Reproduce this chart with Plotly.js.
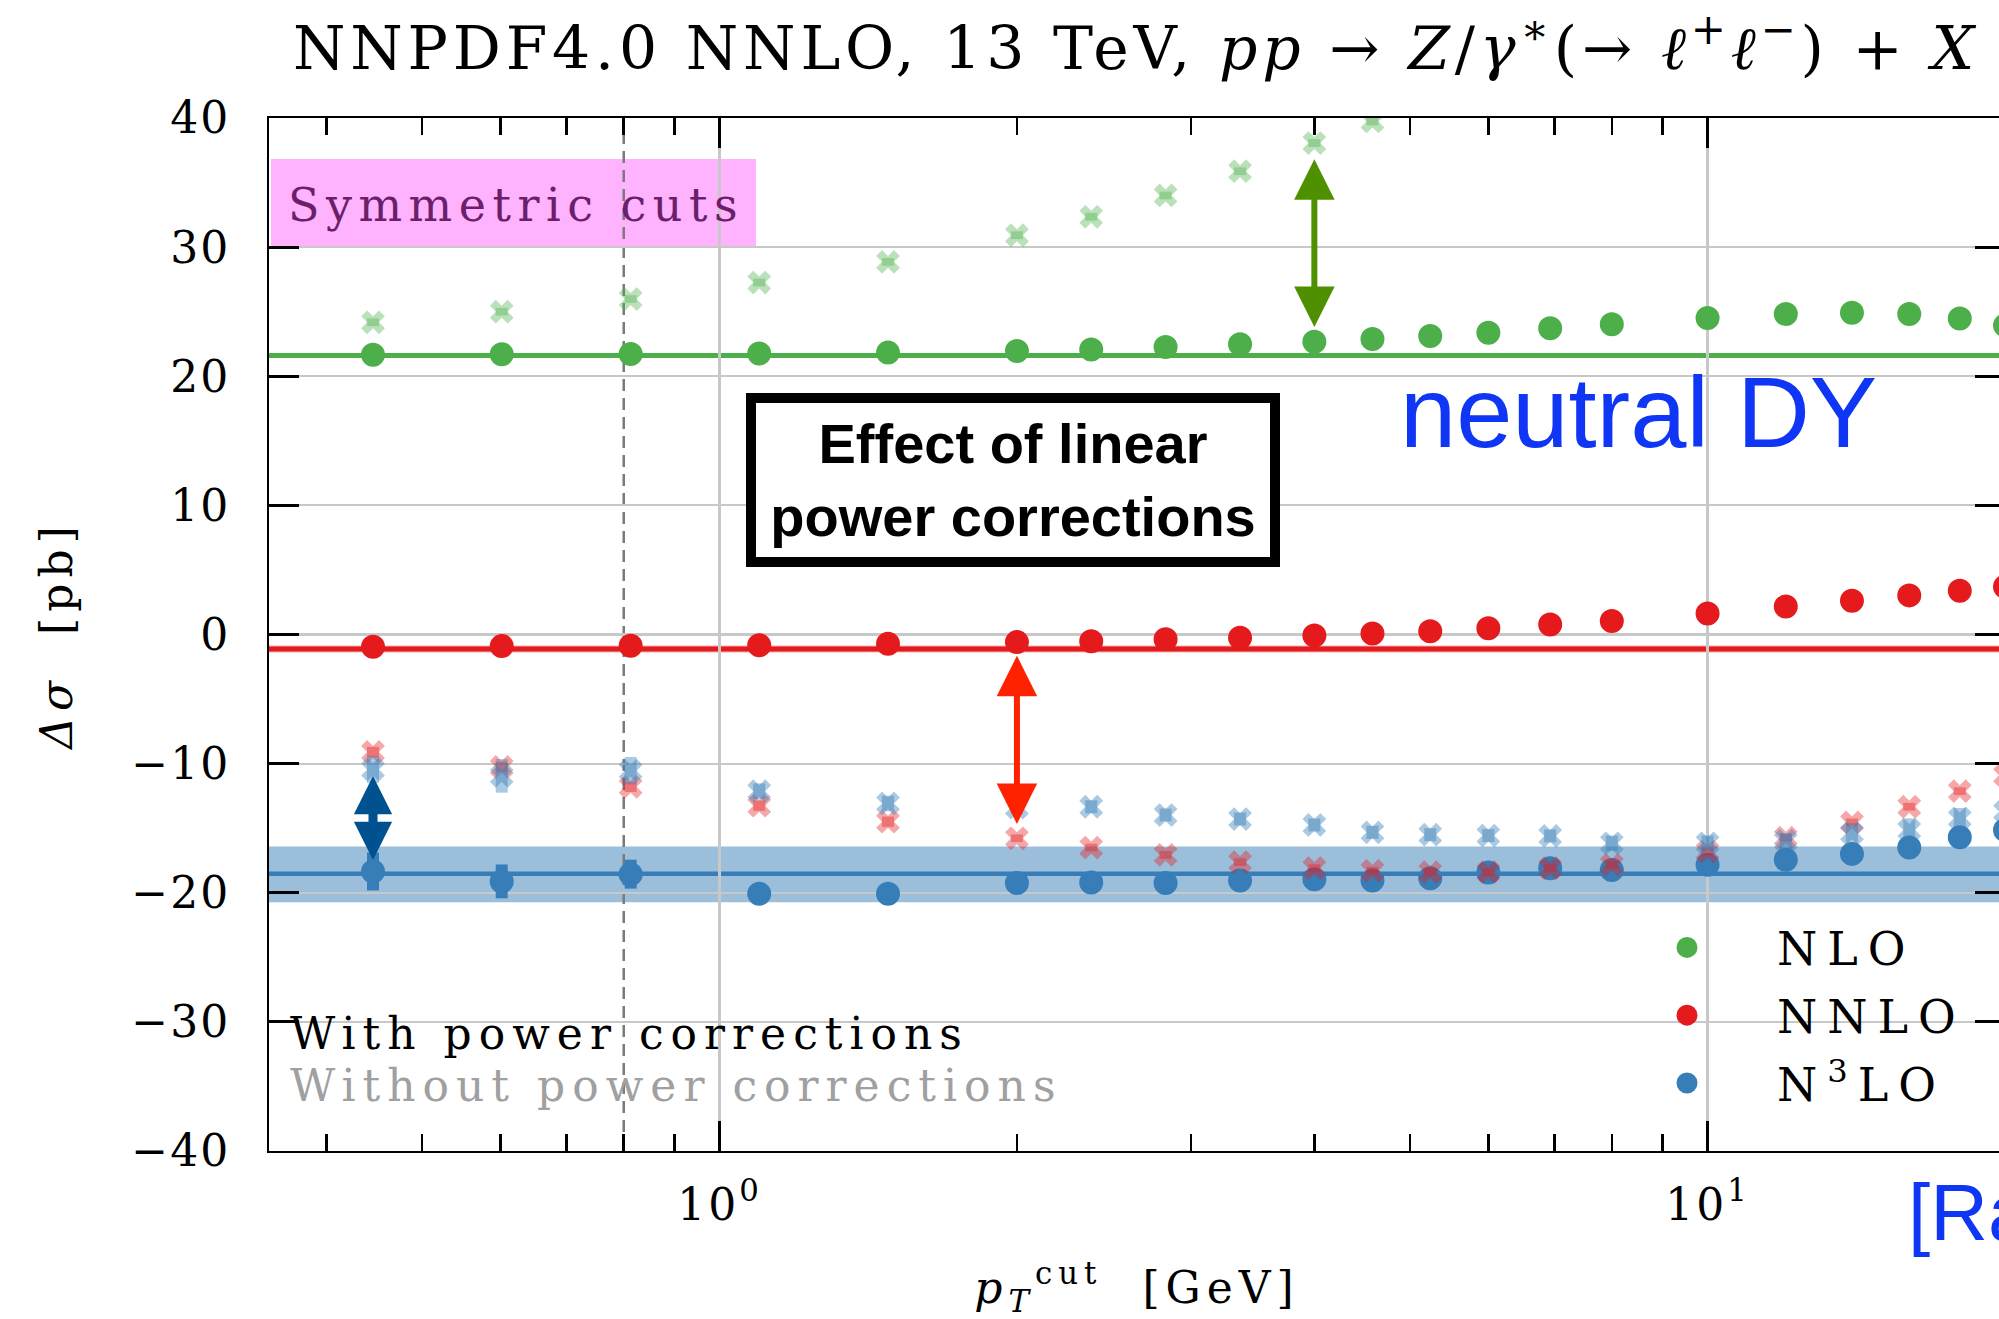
<!DOCTYPE html>
<html><head><meta charset="utf-8">
<script src="https://cdn.plot.ly/plotly-3.0.1.min.js"></script>
<style>
html,body{margin:0;padding:0;overflow:hidden;background:#fff;}
#chart{width:2006px;height:1319px;}
.gtitle{letter-spacing:4.8px;}
.ytick text{letter-spacing:2px;}
.xtick text{letter-spacing:3px;}
.ytitle,.xtitle{letter-spacing:6px;}
</style></head><body><div id="chart"></div>
<script>
// ---------------- data ----------------
const ptCut = [0.446, 0.602, 0.813, 1.097, 1.481, 2.0, 2.378, 2.828, 3.364, 4.0, 4.58, 5.24, 6.0, 6.93, 8.0, 10.0, 12.0, 14.0, 16.0, 18.0, 20.0];

const nloWithPC    = [21.67, 21.70, 21.73, 21.76, 21.83, 21.95, 22.08, 22.26, 22.47, 22.68, 22.88, 23.11, 23.37, 23.71, 24.02, 24.51, 24.82, 24.92, 24.82, 24.48, 23.94];
const nloWithPCErr = [0.25, 0.25, 0.25, 0.25, 0.25, 0.25, 0.25, 0.25, 0.25, 0.25, 0.25, 0.25, 0.25, 0.25, 0.25, 0.25, 0.25, 0.25, 0.25, 0.25, 0.25];
const nloNoPC      = [24.18, 25.00, 25.98, 27.26, 28.86, 30.92, 32.35, 34.00, 35.88, 38.06, 39.73];
const nloNoPCErr   = [0.3, 0.3, 0.3, 0.3, 0.3, 0.3, 0.3, 0.3, 0.3, 0.3, 0.3];

const nnloWithPC    = [-0.95, -0.90, -0.88, -0.83, -0.72, -0.59, -0.52, -0.36, -0.26, -0.08, 0.07, 0.25, 0.49, 0.77, 1.05, 1.62, 2.16, 2.62, 3.03, 3.39, 3.70];
const nnloWithPCErr = [0.25, 0.25, 0.25, 0.25, 0.25, 0.25, 0.25, 0.25, 0.25, 0.25, 0.25, 0.25, 0.25, 0.25, 0.25, 0.25, 0.25, 0.25, 0.25, 0.25, 0.25];
const nnloNoPC      = [-9.10, -10.26, -11.80, -13.26, -14.50, -15.78, -16.50, -17.07, -17.63, -18.10, -18.30, -18.40, -18.40, -18.10, -17.84, -16.81, -15.73, -14.55, -13.34, -12.13, -10.90];
const nnloNoPCErr   = [0.4, 0.4, 0.4, 0.4, 0.4, 0.3, 0.3, 0.3, 0.3, 0.3, 0.3, 0.3, 0.3, 0.3, 0.3, 0.3, 0.3, 0.3, 0.3, 0.3, 0.3];

const n3loWithPC    = [-18.35, -19.12, -18.56, -20.08, -20.08, -19.25, -19.20, -19.25, -19.05, -18.95, -19.05, -18.87, -18.43, -18.10, -18.23, -17.84, -17.45, -16.99, -16.50, -15.70, -15.14];
const n3loWithPCErr = [1.47, 1.31, 1.12, 0.6, 0.6, 0.5, 0.5, 0.5, 0.5, 0.5, 0.5, 0.5, 0.5, 0.5, 0.5, 0.5, 0.5, 0.5, 0.5, 0.5, 0.5];
const n3loNoPC      = [-10.45, -10.95, -10.55, -12.13, -13.08, -13.40, -13.34, -13.98, -14.29, -14.75, -15.32, -15.50, -15.57, -15.60, -16.17, -16.17, -15.99, -15.40, -15.14, -14.24, -13.72];
const n3loNoPCErr   = [1.05, 1.3, 1.06, 0.6, 0.6, 0.5, 0.5, 0.5, 0.5, 0.5, 0.5, 0.5, 0.5, 0.5, 0.6, 0.6, 0.6, 0.8, 0.9, 0.8, 0.8];

// reference (q_T-integrated) values
const nloRef = 21.61;
const nnloRef = -1.13;
const nnloRefBand = [-1.40, -0.86];
const n3loRef = -18.53;
const n3loRefBand = [-20.74, -16.42];

// symmetric cut marker and "effect" arrows (index into ptCut, y tips)
const cutLine = 0.8;
const arrowNLO  = {i: 9, from: 23.7,   to: 36.8};
const arrowNNLO = {i: 5, from: -14.8,  to: -1.65};
const arrowN3LO = {i: 0, from: -17.58, to: -10.95};

const seriesNames = ['NLO', 'NNLO', 'N<sup>3</sup>LO'];
const yTicks = [-40, -30, -20, -10, 0, 10, 20, 30, 40];
const xTicks = [1, 10];
const xTickText = ['10<sup>0</sup>', '10<sup>1</sup>'];
const xMinor = [0.4, 0.5, 0.6, 0.7, 0.8, 0.9, 2, 3, 4, 5, 6, 7, 8, 9, 20];

// ---------------- layout helpers ----------------
const W = 2006, H = 1319;
const PL = 269, PR = 2005, PT = 118, PB = 1151;
const xr = [Math.log10(0.35), Math.log10(20)];
const px = p => (p - PL) / (PR - PL);
const py = p => (PB - p) / (PB - PT);
const xPaper = v => (Math.log10(v) - xr[0]) / (xr[1] - xr[0]);

const cGreen = '#4daf4a', cRed = '#e41a1c', cBlue = '#377eb8';
const serif = 'DejaVu Serif, Liberation Serif, serif';
const sans = 'Liberation Sans, Arial, sans-serif';
const spaced = (t, s) => '<span style="letter-spacing:' + s + 'px">' + t + '</span>';

function dots(y, err, color, name, grp) {
  return {x: ptCut, y: y, type: 'scatter', mode: 'markers', name: spaced(name, 10), legendgroup: grp,
    marker: {color: color, size: 19, line: {width: 5, color: color}},
    error_y: {type: 'data', array: err, visible: true, color: color, thickness: 12, width: 0},
    hoverinfo: 'x+y'};
}
function crosses(y, err, color) {
  return {x: ptCut.slice(0, y.length), y: y, type: 'scatter', mode: 'markers', showlegend: false,
    marker: {symbol: 'x', color: color, size: 21, line: {width: 0}},
    error_y: {type: 'data', array: err, visible: true, color: color, thickness: 12, width: 0},
    hoverinfo: 'x+y'};
}

const traces = [
  dots(nloWithPC, nloWithPCErr, cGreen, seriesNames[0], 'g1'),
  dots(nnloWithPC, nnloWithPCErr, cRed, seriesNames[1], 'g2'),
  dots(n3loWithPC, n3loWithPCErr, cBlue, seriesNames[2], 'g3'),
  crosses(nloNoPC, nloNoPCErr, 'rgba(77,175,74,0.38)'),
  crosses(nnloNoPC, nnloNoPCErr, 'rgba(228,26,28,0.38)'),
  crosses(n3loNoPC, n3loNoPCErr, 'rgba(55,126,184,0.42)')
];

function hline(y, color, w) {
  return {type: 'line', xref: 'paper', x0: 0, x1: 1, yref: 'y', y0: y, y1: y, line: {color: color, width: w}, layer: 'between'};
}
const shapes = [
  {type: 'rect', xref: 'paper', yref: 'paper', x0: px(271), x1: px(756), y0: py(246.7), y1: py(159),
   fillcolor: '#ffb2fe', line: {width: 0}, layer: 'below'},
  {type: 'rect', xref: 'paper', x0: 0, x1: 1, yref: 'y', y0: n3loRefBand[0], y1: n3loRefBand[1],
   fillcolor: 'rgba(55,126,184,0.5)', line: {width: 0}, layer: 'between'},
  {type: 'rect', xref: 'paper', x0: 0, x1: 1, yref: 'y', y0: nnloRefBand[0], y1: nnloRefBand[1],
   fillcolor: 'rgba(228,26,28,0.35)', line: {width: 0}, layer: 'between'},
  hline(nloRef, cGreen, 5),
  hline(nnloRef, cRed, 5),
  hline(n3loRef, cBlue, 4.5),
  {type: 'line', xref: 'paper', x0: xPaper(cutLine), x1: xPaper(cutLine), yref: 'paper', y0: 0, y1: 1,
   line: {color: '#7a7a7a', width: 2.5, dash: '12px,7px'}, layer: 'between'}
];

function arrow(a, color, w, s) {
  const lx = Math.log10(ptCut[a.i]);
  return {xref: 'x', yref: 'y', axref: 'x', ayref: 'y', x: lx, y: a.to, ax: lx, ay: a.from,
    text: '', showarrow: true, arrowside: 'end+start', arrowhead: 2, startarrowhead: 2,
    arrowsize: s, startarrowsize: s, arrowwidth: w, arrowcolor: color, standoff: 0, startstandoff: 0};
}

const annotations = [
  {xref: 'paper', yref: 'paper', x: px(286), y: py(205), xanchor: 'left', yanchor: 'middle', showarrow: false,
   text: spaced('Symmetric cuts', 6.5),
   font: {family: serif, size: 46, color: '#6b1f6b'}},
  {xref: 'paper', yref: 'paper', x: px(1013), y: py(480), xanchor: 'center', yanchor: 'middle', showarrow: false,
   text: '<b>Effect of linear<br>power corrections</b>', width: 514, height: 154, align: 'center', valign: 'middle',
   bordercolor: '#000', borderwidth: 10, borderpad: 0, bgcolor: '#fff',
   font: {family: sans, size: 56, color: '#000'}},
  {xref: 'paper', yref: 'paper', x: px(1398), y: py(412), xanchor: 'left', yanchor: 'middle', showarrow: false,
   text: 'neutral DY', font: {family: sans, size: 101, color: '#0f35f5'}},
  {xref: 'paper', yref: 'paper', x: px(1906), y: py(1212), xanchor: 'left', yanchor: 'middle', showarrow: false,
   text: '[Ra', font: {family: sans, size: 80, color: '#0f35f5'}},
  {xref: 'paper', yref: 'paper', x: px(288), y: py(1033), xanchor: 'left', yanchor: 'middle', showarrow: false,
   text: spaced('With power corrections', 7),
   font: {family: serif, size: 44, color: '#000'}},
  {xref: 'paper', yref: 'paper', x: px(288), y: py(1085), xanchor: 'left', yanchor: 'middle', showarrow: false,
   text: spaced('Without power corrections', 7),
   font: {family: serif, size: 44, color: '#a0a0a0'}},
  arrow(arrowNLO, '#4e9000', 6, 1.35),
  arrow(arrowNNLO, '#ff2200', 6, 1.35),
  arrow(arrowN3LO, '#00518f', 9, 0.85)
];

const axisCommon = {
  showline: true, linecolor: '#000', linewidth: 2, mirror: 'ticks',
  ticks: 'inside', tickcolor: '#000', ticklen: 30, tickwidth: 3,
  showgrid: true, gridcolor: '#c8c8c8', gridwidth: 2.2, zeroline: false, automargin: false,
  tickfont: {family: serif, size: 44, color: '#000'}
};

const layout = {
  width: W, height: H,
  margin: {l: PL, r: W - PR, t: PT, b: H - PB, pad: 0},
  paper_bgcolor: '#fff', plot_bgcolor: '#fff',
  title: {text: 'NNPDF4.0 NNLO, 13 TeV, <i>pp</i> → <i>Z</i>/<i>γ</i><sup>∗</sup>(→ <i>ℓ</i><sup>+</sup><i>ℓ</i><sup>−</sup>) + <i>X</i>',
    font: {family: serif, size: 60, color: '#000'}, xref: 'container', x: 293 / W, xanchor: 'left',
    yref: 'container', y: 1 - 48 / H, yanchor: 'middle'},
  xaxis: Object.assign({}, axisCommon, {
    type: 'log', range: xr, tickmode: 'array', tickvals: xTicks, ticktext: xTickText, ticklabelstandoff: 14,
    minor: {tickmode: 'array', tickvals: xMinor, ticks: 'inside', ticklen: 17, tickwidth: 2.5, tickcolor: '#000', showgrid: false},
    title: {text: '<i>p</i><sub><i>T</i></sub><sup>cut</sup>  [GeV]', font: {family: serif, size: 44, color: '#000'}, standoff: 48}
  }),
  yaxis: Object.assign({}, axisCommon, {
    range: [-40, 40], tickmode: 'array', tickvals: yTicks, ticklabelstandoff: 28,
    title: {text: '<i>Δσ</i>  [pb]', font: {family: serif, size: 44, color: '#000'}, standoff: 45}
  }),
  showlegend: true,
  legend: {x: px(1597), y: py(911), xanchor: 'left', yanchor: 'top', bgcolor: 'rgba(0,0,0,0)', borderwidth: 0,
    font: {family: serif, size: 46, color: '#000'}, itemwidth: 170, tracegroupgap: 5, traceorder: 'grouped'},
  shapes: shapes,
  annotations: annotations
};

Plotly.newPlot('chart', traces, layout, {displayModeBar: false, staticPlot: true});
</script>
</body></html>
